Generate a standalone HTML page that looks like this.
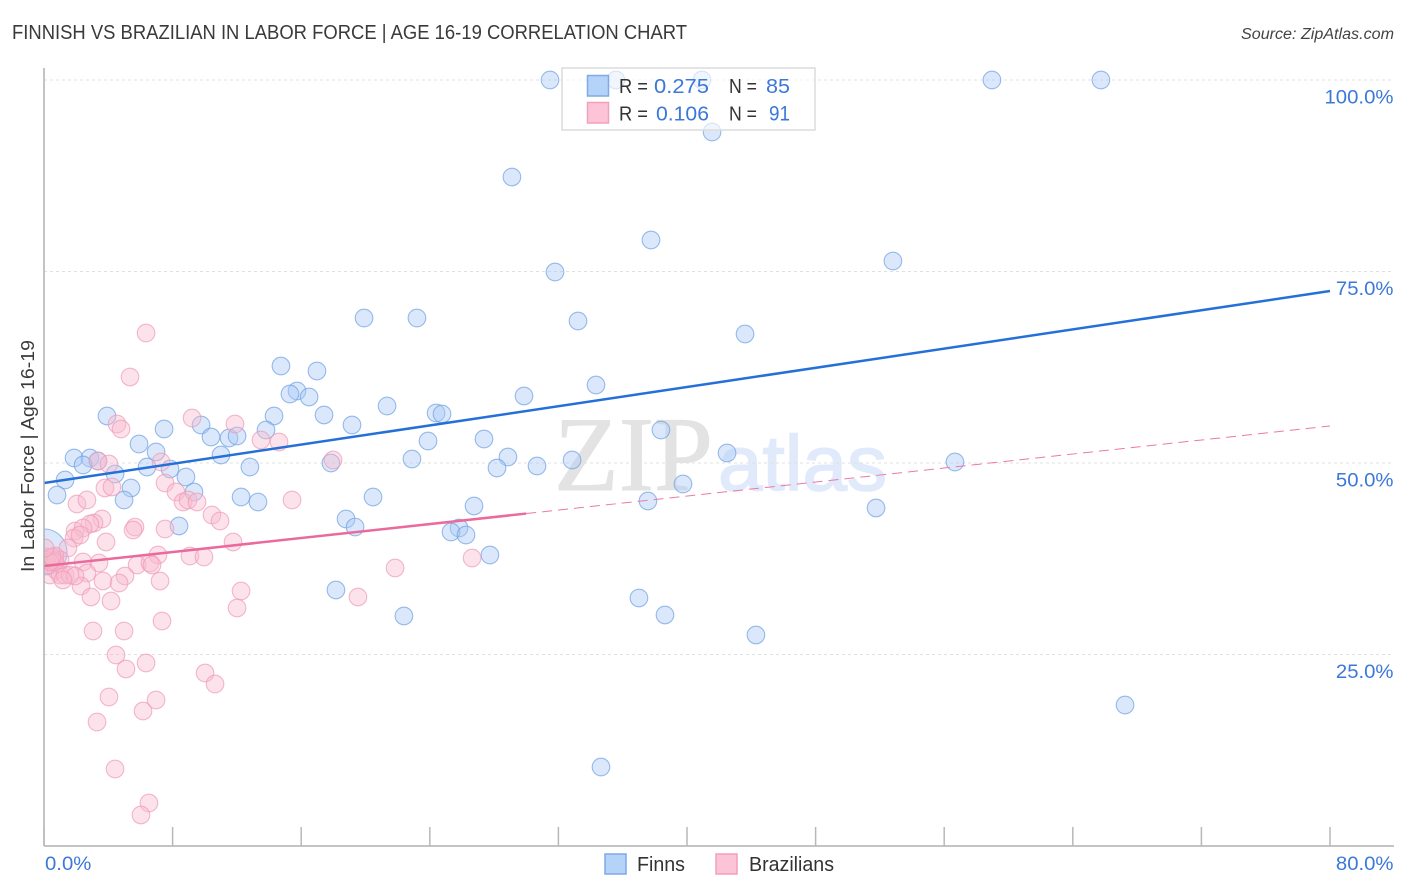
<!DOCTYPE html>
<html lang="en">
<head>
<meta charset="utf-8">
<title>Finnish vs Brazilian in Labor Force | Age 16-19 Correlation Chart</title>
<style>
html,body{margin:0;padding:0;background:#fff;}
svg{display:block;font-family:"Liberation Sans",sans-serif;}
</style>
</head>
<body>
<svg id="chart" xmlns="http://www.w3.org/2000/svg" width="1406" height="892" viewBox="0 0 1406 892">
  <defs>
    <clipPath id="plot-clip"><rect x="44" y="60" width="1350" height="786"/></clipPath>
  </defs>
  <text x="12" y="39" font-size="20" fill="#3a3a3a" textLength="675" lengthAdjust="spacingAndGlyphs">FINNISH VS BRAZILIAN IN LABOR FORCE | AGE 16-19 CORRELATION CHART</text>
  <text x="1241" y="39" font-size="15.5" font-style="italic" fill="#444" textLength="153" lengthAdjust="spacingAndGlyphs">Source: ZipAtlas.com</text>
  <g>
    <text x="554" y="490" font-family="'Liberation Serif',serif" font-size="106" fill="#e3e3e3" stroke="#e3e3e3" stroke-width="1" textLength="159" lengthAdjust="spacingAndGlyphs">ZIP</text>
    <text x="718" y="490" font-size="78" fill="#e0eafa" stroke="#e0eafa" stroke-width="1.5" textLength="169" lengthAdjust="spacingAndGlyphs">atlas</text>
  </g>
  <g id="grid"></g>
  <g id="finn-points" clip-path="url(#plot-clip)"></g>
  <g id="brazil-points" clip-path="url(#plot-clip)"></g>
  <g id="trends"></g>
  <g id="axes"></g>
  <text transform="translate(34,572) rotate(-90)" font-size="18" fill="#3a3a3a" textLength="232" lengthAdjust="spacingAndGlyphs">In Labor Force | Age 16-19</text>

  <g>
    <rect x="562" y="68" width="253" height="62" fill="#fff" fill-opacity="0.62" stroke="#dcdcdc" stroke-width="1.5"/>
    <rect x="587.5" y="75.5" width="21" height="20.5" fill="#b5d2f8" stroke="#7eaae6" stroke-width="1.5"/>
    <rect x="587.5" y="102.5" width="21" height="20.5" fill="#fcc4d6" stroke="#f2a0bc" stroke-width="1.5"/>
    <g font-size="20">
      <text x="619" y="93" fill="#333" textLength="29" lengthAdjust="spacingAndGlyphs">R =</text>
      <text x="654" y="93" fill="#3b78d8" textLength="55" lengthAdjust="spacingAndGlyphs">0.275</text>
      <text x="729" y="93" fill="#333" textLength="28" lengthAdjust="spacingAndGlyphs">N =</text>
      <text x="766" y="93" fill="#3b78d8" textLength="24" lengthAdjust="spacingAndGlyphs">85</text>
      <text x="619" y="120.500" fill="#333" textLength="29" lengthAdjust="spacingAndGlyphs">R =</text>
      <text x="656" y="120.500" fill="#3b78d8" textLength="53" lengthAdjust="spacingAndGlyphs">0.106</text>
      <text x="729" y="120.500" fill="#333" textLength="28" lengthAdjust="spacingAndGlyphs">N =</text>
      <text x="769" y="120.500" font-size="21" fill="#3b78d8" textLength="21" lengthAdjust="spacingAndGlyphs">91</text>
    </g>
  </g>

  <g>
    <rect x="605" y="854" width="21" height="20" fill="#b5d2f8" stroke="#7eaae6" stroke-width="1.5"/>
    <text x="637" y="871" font-size="20" fill="#333" textLength="48" lengthAdjust="spacingAndGlyphs">Finns</text>
    <rect x="716" y="854" width="21" height="20" fill="#fcc4d6" stroke="#f2a0bc" stroke-width="1.5"/>
    <text x="749" y="871" font-size="20" fill="#333" textLength="85" lengthAdjust="spacingAndGlyphs">Brazilians</text>
  </g>
</svg>
<script>
// ---- chart data (percent values) ----
const xTickValues = [0, 8, 16, 24, 32, 40, 48, 56, 64, 72, 80];
const xTickLabels = ['0.0%', '80.0%'];
const yTickValues = [25, 50, 75, 100];
const yTickLabels = ['25.0%', '50.0%', '75.0%', '100.0%'];

const finnX = [31.48,35.58,40.93,58.97,65.75,41.56,29.11,37.76,31.79,52.81,19.91,23.20,33.22,43.61,14.74,16.98,34.34,15.74,15.30,16.49,29.86,21.34,17.42,14.31,3.92,24.39,24.76,19.16,13.81,7.47,9.77,38.38,5.91,10.39,11.51,12.01,23.89,27.37,42.49,6.97,1.87,2.86,3.36,2.43,11.01,12.81,22.89,28.86,32.85,30.67,28.18,56.67,6.41,7.84,17.85,4.42,8.83,1.31,39.75,5.41,0.81,4.98,9.33,12.26,13.31,20.47,37.57,26.75,51.76,18.79,19.35,8.40,25.82,25.32,26.25,27.74,18.16,37.01,22.39,38.63,44.29,67.25,34.65];
const finnY = [100,100,100,100,100,93.21,87.34,79.11,74.93,76.37,68.93,68.93,68.54,66.84,62.66,62.01,60.18,59.40,59.01,58.62,58.75,57.44,56.27,56.14,56.14,56.53,56.40,54.96,54.31,54.44,54.96,54.31,52.48,53.39,53.26,53.52,52.87,53.13,51.31,51.44,50.65,50.65,50.26,49.74,51.04,49.48,50.52,50.78,50.39,49.61,49.35,50.13,49.48,49.22,50.00,48.56,48.17,47.78,47.26,46.74,45.82,45.17,46.21,45.56,44.91,45.56,45.04,44.39,44.13,42.69,41.64,41.78,41.51,40.99,40.60,37.99,33.42,32.38,30.03,30.16,27.55,18.41,10.31];
const finnClusterX = [0];
const finnClusterY = [38.38];

const brazilX = [6.35,5.35,4.54,4.79,9.21,11.88,13.50,14.62,3.36,4.04,7.28,17.98,7.53,8.21,8.65,8.96,9.52,10.45,10.95,3.79,4.23,2.05,2.67,15.43,3.61,3.11,2.86,1.93,2.43,1.87,2.24,1.49,5.66,5.54,7.53,3.86,11.76,7.09,9.08,9.95,5.79,6.59,6.72,2.43,3.42,2.67,5.04,3.67,4.67,7.22,2.30,2.92,4.17,12.26,12.01,7.34,3.05,4.98,4.48,6.35,5.10,10.02,10.64,4.04,6.97,6.16,3.30,4.42,6.53,6.03,26.63,21.84,19.53,0.37,0.75,1.00,1.31,1.62,1.93,0.25,0.56,1.00,0.37,1.18,0.12,0.12,0.68,0.68,0.37,0.50,0.06];
const brazilY = [66.97,61.23,55.09,54.44,55.87,55.09,53.00,52.74,50.26,49.87,50.13,50.39,47.39,46.21,44.91,45.17,44.91,43.21,42.43,46.74,46.87,44.65,45.17,45.17,42.69,42.17,42.04,41.12,41.51,40.21,40.60,38.90,41.64,41.25,41.38,39.69,39.69,37.99,37.86,37.73,36.68,36.95,36.68,37.08,36.95,35.64,35.25,34.60,34.33,34.60,33.94,32.51,31.98,33.29,31.07,29.37,28.07,28.07,24.93,23.89,23.11,22.58,21.15,19.45,19.06,17.62,16.19,10.05,5.61,4.05,37.60,36.29,32.51,35.38,36.03,35.38,35.38,35.38,35.25,36.68,37.34,37.34,37.60,34.73,37.73,37.34,37.86,37.08,37.08,37.73,38.90];

const finnTrendX = [0, 80];
const finnTrendY = [47.39, 72.45];
const brazilTrendSolidX = [0, 30];
const brazilTrendSolidY = [36.55, 43.40];
const brazilTrendDashX = [30, 80];
const brazilTrendDashY = [43.40, 54.83];

// ---- axis functions ----
const X0 = 44, X_PER_UNIT = 16.075, Y100 = 80, Y_PER_UNIT = 7.66;
function xScale(v) { return X0 + v * X_PER_UNIT; }
function yScale(v) { return Y100 + (100 - v) * Y_PER_UNIT; }
const BASELINE = yScale(0);
const NS = 'http://www.w3.org/2000/svg';
function make(tag, attrs, parent) {
  const el = document.createElementNS(NS, tag);
  for (const k in attrs) el.setAttribute(k, attrs[k]);
  parent.appendChild(el);
  return el;
}
// Reference axis font is wider than Liberation Sans: stretch labels to match.
function widen(el) {
  el.setAttribute('textLength', (el.getComputedTextLength() * 1.07).toFixed(1));
  el.setAttribute('lengthAdjust', 'spacingAndGlyphs');
}

// gridlines and y tick labels
const grid = document.getElementById('grid');
const axes = document.getElementById('axes');
yTickValues.forEach(function (v, i) {
  const line = make('line', {x1: X0, x2: 1394, y1: yScale(v), y2: yScale(v), stroke: '#e0e0e0', 'stroke-width': 1, 'stroke-dasharray': '3 3'}, grid);
  
  
  const label = make('text', {x: 1393.5, y: yScale(v) + 23.5, 'text-anchor': 'end', 'font-size': 19, fill: '#3b78d8'}, axes);
  
  
  label.textContent = yTickLabels[i];
  widen(label);
});

// axes lines and x ticks
const yAxisLine = make('line', {x1: X0, x2: X0, y1: 68, y2: BASELINE, stroke: '#b0b0b0', 'stroke-width': 1.5}, axes);


const xAxisLine = make('line', {x1: X0, x2: 1394, y1: BASELINE, y2: BASELINE, stroke: '#b0b0b0', 'stroke-width': 1.5}, axes);


xTickValues.forEach(function (v) {
  const tick = make('line', {x1: xScale(v), x2: xScale(v), y1: BASELINE - 19, y2: BASELINE, stroke: '#b8b8b8', 'stroke-width': 1.5}, axes);
  
  
});
const xLabelMin = make('text', {x: xScale(xTickValues[0]) + 1, y: 870, 'font-size': 19, fill: '#3b78d8'}, axes);


xLabelMin.textContent = xTickLabels[0];
widen(xLabelMin);
const xLabelMax = make('text', {x: 1393.5, y: 870, 'text-anchor': 'end', 'font-size': 19, fill: '#3b78d8'}, axes);


xLabelMax.textContent = xTickLabels[1];
widen(xLabelMax);

// points
const finnGroup = document.getElementById('finn-points');
const brazilGroup = document.getElementById('brazil-points');
function drawPoint(group, x, y, r, fill, stroke) {
  return make('circle', {cx: xScale(x), cy: yScale(y), r: r, fill: fill, 'fill-opacity': 0.42, stroke: stroke, 'stroke-opacity': 0.7, 'stroke-width': 1.1}, group);
}
finnClusterX.forEach(function (x, i) {
  const c = drawPoint(finnGroup, x, finnClusterY[i], 23, '#a9c9f5', '#6d9fe3');
  
  
});
finnX.forEach(function (x, i) {
  const c = drawPoint(finnGroup, x, finnY[i], 8.8, '#a9c9f5', '#6d9fe3');
  
  
});
brazilX.forEach(function (x, i) {
  const c = drawPoint(brazilGroup, x, brazilY[i], 8.8, '#f9b9cd', '#f09ab8');
  
  
});

// trend lines
const trends = document.getElementById('trends');
const finnTrend = make('line', {x1: xScale(finnTrendX[0]), y1: yScale(finnTrendY[0]), x2: xScale(finnTrendX[1]), y2: yScale(finnTrendY[1]), stroke: '#2470d8', 'stroke-width': 2.5}, trends);


const brazilSolid = make('line', {x1: xScale(brazilTrendSolidX[0]), y1: yScale(brazilTrendSolidY[0]), x2: xScale(brazilTrendSolidX[1]), y2: yScale(brazilTrendSolidY[1]), stroke: '#ea6a9c', 'stroke-width': 2.5}, trends);


const brazilDash = make('line', {x1: xScale(brazilTrendDashX[0]), y1: yScale(brazilTrendDashY[0]), x2: xScale(brazilTrendDashX[1]), y2: yScale(brazilTrendDashY[1]), stroke: '#ea7aa6', 'stroke-width': 1, 'stroke-dasharray': '10 6'}, trends);


</script>
</body>
</html>
